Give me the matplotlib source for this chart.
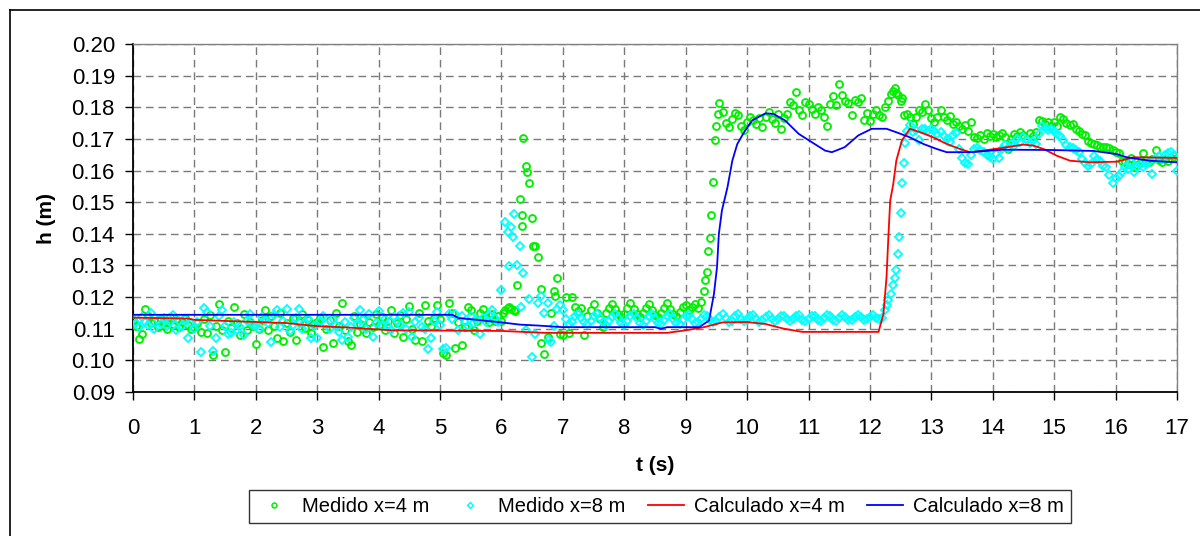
"""
Medido vs calculado: profundidad h(t) en x=4 m y x=8 m
"""
import numpy as np
import matplotlib.pyplot as plt
from matplotlib.lines import Line2D

plt.rcParams['font.family'] = ['Liberation Sans', 'DejaVu Sans']

DT = 0.05  # sampling step of measured series (s)

# measured h, units of 0.1 mm, one row per second (t = 0.00 ... 16.95), then t = 17.00
h_med4 = [
    1125, 1108, 1068, 1082, 1162, 1140, 1118, 1126, 1104, 1132, 1120, 1098, 1138, 1114, 1128, 1106, 1122, 1135, 1112, 1100,
    1104, 1118, 1090, 1130, 1085, 1142, 1016, 1110, 1178, 1095, 1026, 1125, 1102, 1170, 1118, 1080, 1145, 1095, 1120, 1108,
    1053, 1100, 1128, 1160, 1095, 1140, 1110, 1072, 1150, 1060, 1118, 1090, 1135, 1065, 1122, 1145, 1102, 1128, 1088, 1115,
    1120, 1135, 1042, 1100, 1128, 1055, 1150, 1108, 1180, 1095, 1060, 1050, 1140, 1090, 1115, 1132, 1085, 1120, 1105, 1145,
    1112, 1138, 1095, 1125, 1160, 1085, 1118, 1142, 1074, 1130, 1172, 1100, 1065, 1150, 1060, 1174, 1125, 1110, 1135, 1174,
    1130, 1022, 1018, 1180, 1150, 1040, 1120, 1050, 1105, 1170, 1160, 1095, 1125, 1150, 1163, 1135, 1120, 1145, 1126, 1140,
    1126, 1160, 1165, 1162, 1158, 1237, 1510, 1703, 1613, 1560, 1450, 1360, 1326, 1226, 1020, 1074, 1150, 1220, 1260, 1084,
    1080, 1200, 1085, 1200, 1170, 1155, 1165, 1080, 1140, 1160, 1178, 1150, 1130, 1105, 1150, 1165, 1178, 1162, 1145, 1138,
    1148, 1165, 1180, 1162, 1145, 1138, 1150, 1166, 1178, 1160, 1143, 1137, 1150, 1167, 1180, 1163, 1146, 1140, 1152, 1168,
    1175, 1160, 1168, 1178, 1165, 1184, 1220, 1280, 1387, 1565, 1742, 1813, 1785, 1750, 1738, 1762, 1782, 1776, 1742, 1728,
    1755, 1768, 1760, 1748, 1765, 1737, 1770, 1784, 1762, 1750, 1778, 1730, 1765, 1780, 1816, 1808, 1847, 1790, 1776, 1818,
    1810, 1795, 1779, 1800, 1790, 1768, 1742, 1810, 1837, 1808, 1872, 1840, 1820, 1812, 1776, 1822, 1818, 1828, 1760, 1782,
    1758, 1780, 1790, 1776, 1770, 1800, 1820, 1842, 1861, 1838, 1820, 1774, 1779, 1770, 1747, 1770, 1790, 1785, 1810, 1792,
    1765, 1755, 1770, 1790, 1768, 1760, 1772, 1748, 1755, 1740, 1730, 1745, 1726, 1752, 1705, 1703, 1712, 1700, 1718, 1708,
    1715, 1705, 1712, 1720, 1706, 1668, 1700, 1715, 1710, 1722, 1712, 1700, 1718, 1708, 1722, 1760, 1758, 1748, 1752, 1740,
    1752, 1742, 1770, 1762, 1750, 1745, 1748, 1732, 1725, 1715, 1712, 1692, 1688, 1684, 1680, 1676, 1674, 1675, 1672, 1666,
    1660, 1655, 1630, 1628, 1620, 1640, 1612, 1618, 1625, 1657, 1632, 1628, 1635, 1665, 1632, 1628, 1635, 1630, 1640, 1645,
    1640,
]

h_med8 = [
    1130, 1118, 1105, 1138, 1122, 1112, 1150, 1098, 1128, 1115, 1135, 1108, 1120, 1142, 1095, 1125, 1110, 1132, 1070, 1118,
    1100, 1120, 1028, 1165, 1152, 1108, 1031, 1070, 1140, 1158, 1110, 1082, 1085, 1120, 1095, 1105, 1080, 1125, 1147, 1112,
    1110, 1100, 1138, 1128, 1118, 1058, 1142, 1160, 1105, 1125, 1163, 1092, 1112, 1135, 1163, 1098, 1120, 1130, 1070, 1108,
    1070, 1125, 1140, 1115, 1098, 1130, 1112, 1090, 1063, 1120, 1074, 1105, 1135, 1112, 1160, 1128, 1100, 1145, 1074, 1118,
    1155, 1108, 1130, 1110, 1095, 1138, 1125, 1112, 1150, 1100, 1153, 1074, 1120, 1135, 1105, 1100, 1037, 1070, 1125, 1153,
    1112, 1037, 1040, 1147, 1130, 1145, 1095, 1140, 1120, 1108, 1140, 1118, 1128, 1084, 1135, 1120, 1142, 1160, 1135, 1120,
    1223, 1437, 1405, 1423, 1463, 1300, 1363, 1276, 1095, 1195, 1010, 1084, 1180, 1205, 1150, 1180, 1058, 1110, 1163, 1174,
    1160, 1130, 1115, 1122, 1140, 1148, 1135, 1120, 1114, 1125, 1140, 1147, 1135, 1120, 1112, 1124, 1138, 1146, 1133, 1118,
    1113, 1126, 1140, 1147, 1134, 1119, 1112, 1125, 1139, 1146, 1132, 1118, 1114, 1127, 1141, 1145, 1131, 1117, 1115, 1128,
    1140, 1144, 1130, 1118, 1122, 1130, 1142, 1140, 1128, 1120, 1125, 1138, 1146, 1135, 1122, 1126, 1140, 1145, 1132, 1124,
    1128, 1140, 1143, 1130, 1122, 1129, 1138, 1142, 1131, 1123, 1130, 1139, 1141, 1130, 1124, 1131, 1140, 1142, 1129, 1124,
    1132, 1141, 1140, 1128, 1125, 1133, 1142, 1139, 1127, 1126, 1134, 1143, 1138, 1127, 1128, 1136, 1144, 1137, 1128, 1130,
    1137, 1143, 1135, 1130, 1135, 1158, 1190, 1210, 1260, 1335, 1466, 1624, 1726, 1745, 1722, 1728, 1695, 1730, 1732, 1725,
    1730, 1726, 1715, 1722, 1708, 1700, 1690, 1712, 1720, 1668, 1640, 1625, 1620, 1650, 1668, 1672, 1665, 1660, 1650, 1642,
    1638, 1652, 1640, 1668, 1680, 1672, 1685, 1678, 1700, 1690, 1705, 1695, 1688, 1692, 1685, 1715, 1740, 1735, 1728, 1730,
    1725, 1715, 1708, 1698, 1682, 1675, 1670, 1665, 1660, 1635, 1625, 1615, 1620, 1645, 1638, 1630, 1615, 1610, 1585, 1560,
    1575, 1582, 1595, 1610, 1605, 1626, 1595, 1612, 1618, 1610, 1620, 1628, 1590, 1640, 1645, 1638, 1650, 1655, 1660, 1648,
    1600,
]

# extra samples inside the fast transients (t in s, h in 0.1 mm)
t_med4_extra = [6.02, 6.12, 6.22, 6.33, 6.34, 6.42, 6.52, 6.64, 6.87, 9.31, 9.37, 9.42, 9.47, 9.52, 12.37, 12.42, 12.52]
h_med4_extra = [1150, 1168, 1155, 1460, 1426, 1595, 1360, 1055, 1205, 1255, 1345, 1460, 1695, 1779, 1850, 1845, 1830]
t_med8_extra = [6.12, 6.19, 6.31, 6.78, 12.27, 12.37, 12.42, 12.47, 12.52, 12.57]
h_med8_extra = [1297, 1390, 1168, 1065, 1174, 1237, 1286, 1390, 1561, 1687]

# computed series (m)
t_calc4 = [0.0, 0.9, 1.0, 2.5, 3.0, 3.5, 4.2, 6.0, 6.7, 8.7, 9.0, 9.3, 9.6, 10.0, 10.3, 10.6, 10.9,
           12.14, 12.22, 12.27, 12.30, 12.33, 12.38, 12.43, 12.52, 12.65, 12.82, 13.03, 13.25, 13.47,
           13.63, 13.85, 14.17, 14.5, 14.66, 14.83, 15.04, 15.26, 15.58, 16.02, 16.29, 17.0]
h_calc4 = [0.1135, 0.1132, 0.1128, 0.1118, 0.1108, 0.1104, 0.1095, 0.1093, 0.1087, 0.1087, 0.1095,
           0.1105, 0.1120, 0.1121, 0.1115, 0.1100, 0.1090, 0.1090, 0.1147, 0.1263, 0.1390, 0.1505,
           0.1558, 0.1632, 0.1695, 0.1732, 0.1721, 0.1705, 0.1684, 0.1668, 0.1658, 0.1663, 0.1672,
           0.1682, 0.1679, 0.1668, 0.1647, 0.1631, 0.1626, 0.1628, 0.1642, 0.1640]

t_calc8 = [0.0, 5.2, 5.3, 6.0, 6.3, 6.6, 7.0, 8.5, 8.6, 8.7, 9.22, 9.38, 9.46, 9.51, 9.54, 9.59, 9.68,
           9.76, 9.84, 9.95, 10.08, 10.3, 10.43, 10.62, 10.84, 11.05, 11.27, 11.38, 11.59, 11.81,
           12.03, 12.27, 12.43, 12.65, 12.87, 13.09, 13.25, 13.63, 14.17, 14.93, 15.64, 16.02, 16.18,
           16.56, 17.0]
h_calc8 = [0.1144, 0.1144, 0.1134, 0.1120, 0.1113, 0.1110, 0.1105, 0.1105, 0.1100, 0.1105, 0.1105,
           0.1126, 0.1210, 0.1295, 0.1400, 0.1474, 0.1547, 0.1632, 0.1684, 0.1721, 0.1758, 0.1781,
           0.1779, 0.1758, 0.1716, 0.1690, 0.1663, 0.1658, 0.1674, 0.1711, 0.1732, 0.1732, 0.1721,
           0.1705, 0.1684, 0.1668, 0.1658, 0.1658, 0.1666, 0.1665, 0.1662, 0.1652, 0.1642, 0.1631,
           0.1626]

labels = ['Medido x=4 m', 'Medido x=8 m', 'Calculado x=4 m', 'Calculado x=8 m']
GREEN = '#00f000'
CYAN = '#00ffff'


def med_series(h, t_extra, h_extra):
    t = np.arange(len(h)) * DT
    t = np.concatenate([t, t_extra])
    h = np.concatenate([np.array(h), np.array(h_extra)]) / 10000.0
    return t, h


def main():
    W, H = 1200, 536
    fig = plt.figure(figsize=(W / 100, H / 100), dpi=100)
    ax = fig.add_axes([133 / W, 1 - 392 / H, (1177 - 133) / W, (392 - 44) / H])

    t4, m4 = med_series(h_med4, t_med4_extra, h_med4_extra)
    t8, m8 = med_series(h_med8, t_med8_extra, h_med8_extra)

    ax.plot(t4, m4, 'o', ls='none', ms=5.0, mew=1.35, mfc='none', mec=GREEN, zorder=3)
    ax.plot(t8, m8, 'D', ls='none', ms=4.4, mew=1.35, mfc='none', mec=CYAN, zorder=4)
    ax.plot(t_calc4, h_calc4, color='#ff0000', lw=1.3, zorder=5)
    ax.plot(t_calc8, h_calc8, color='#0000ff', lw=1.3, zorder=6)

    ax.set_xlim(0, 17)
    ax.set_ylim(0.09, 0.20)
    ax.set_xticks(range(0, 18))
    ax.set_yticks(np.arange(9, 21) / 100)
    ax.yaxis.set_major_formatter(plt.FormatStrFormatter('%.2f'))
    ax.tick_params(direction='out', length=6, width=1.0, labelsize=16, color='black')
    ax.tick_params(axis='x', pad=13)
    ax.tick_params(axis='y', pad=7)

    ax.grid(True, color='#7a7a7a', lw=1.0, ls=(0, (5.5, 3.5)))
    ax.set_axisbelow(True)
    for s in ['left', 'bottom']:
        ax.spines[s].set_color('black')
        ax.spines[s].set_linewidth(1.3)
    for s in ['top', 'right']:
        ax.spines[s].set_color('#808080')
        ax.spines[s].set_linewidth(1.0)

    ax.set_xlabel('t (s)', fontsize=15, fontweight='bold', labelpad=12)
    ax.set_ylabel('h (m)', fontsize=15, fontweight='bold', labelpad=11)

    handles = [
        Line2D([], [], marker='o', ls='none', ms=3.5, mew=1.1, mfc='none', mec=GREEN),
        Line2D([], [], marker='D', ls='none', ms=3.0, mew=1.1, mfc='none', mec=CYAN),
        Line2D([], [], color='#ff0000', lw=1.3),
        Line2D([], [], color='#0000ff', lw=1.3),
    ]
    leg = fig.legend(handles, labels, loc='lower center', bbox_to_anchor=(660 / W, 3 / H), ncol=4,
                     fontsize=14.5, frameon=True, fancybox=False, edgecolor='black',
                     handlelength=1.8, handletextpad=0.5, columnspacing=1.1, borderpad=0.35)
    leg.get_frame().set_linewidth(1.0)

    # outer chart-area border (left and top edges visible)
    fig.add_artist(Line2D([10 / W, 10 / W], [0, 1 - 10 / H], color='black', lw=1.2))
    fig.add_artist(Line2D([10 / W, 1], [1 - 10 / H, 1 - 10 / H], color='black', lw=1.2))

    fig.savefig('out.png', dpi=100)
    plt.close(fig)


if __name__ == '__main__':
    main()
